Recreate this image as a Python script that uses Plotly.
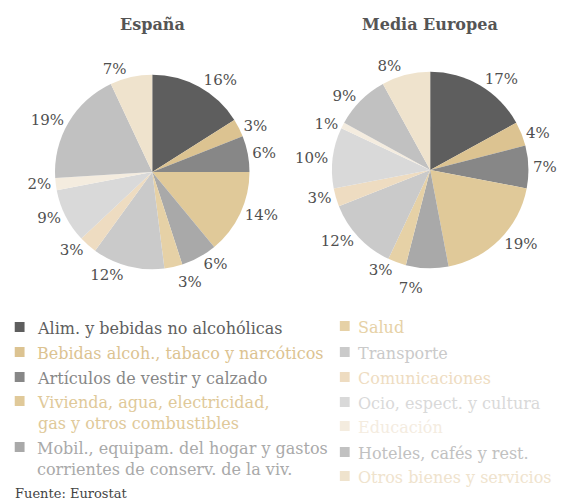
import plotly.graph_objects as go

# categories (clockwise from 12 o'clock)
categorias = [
    "Alim. y bebidas no alcohólicas",
    "Bebidas alcoh., tabaco y narcóticos",
    "Artículos de vestir y calzado",
    "Vivienda, agua, electricidad,<br>gas y otros combustibles",
    "Mobil., equipam. del hogar y gastos<br>corrientes de conserv. de la viv.",
    "Salud",
    "Transporte",
    "Comunicaciones",
    "Ocio, espect. y cultura",
    "Educación",
    "Hoteles, cafés y rest.",
    "Otros bienes y servicios",
]
espana = [16, 3, 6, 14, 6, 3, 12, 3, 9, 2, 19, 7]
media_europea = [17, 4, 7, 19, 7, 3, 12, 3, 10, 1, 9, 8]

colores = [
    "#5e5e5e", "#dcc391", "#878787", "#e0c999", "#a9a9a9", "#e6d1a6",
    "#cacaca", "#eedcc1", "#d9d9d9", "#f4ecdf", "#c1c1c1", "#efe3cd",
]

W, H = 562, 501
FONT = "DejaVu Serif"


def px_x(x):
    return x / W


def px_y(y):
    return 1 - y / H


fig = go.Figure()

pies = [
    ("España", espana, 155, 172, 99),
    ("Media Europea", media_europea, 438, 170, 100),
]
for nombre, valores, cx, cy, r in pies:
    fig.add_trace(go.Pie(
        labels=categorias,
        values=valores,
        text=[f"{v}%" for v in valores],
        textinfo="text",
        textposition="outside",
        textfont=dict(family=FONT, size=15, color="#4f4f4f"),
        sort=False,
        direction="clockwise",
        rotation=0,
        marker=dict(colors=colores, line=dict(width=0)),
        hoverinfo="label+percent",
        domain=dict(x=[px_x(cx - r), px_x(cx + r)],
                    y=[px_y(cy + r), px_y(cy - r)]),
        name=nombre,
        showlegend=False,
    ))
    fig.add_annotation(text=f"<b>{nombre}</b>", x=px_x(cx), y=px_y(25),
                       xref="paper", yref="paper", showarrow=False,
                       xanchor="center", yanchor="middle",
                       font=dict(family=FONT, size=16, color="#555555"))

# manual legend in two columns
filas_izq = [327, 352, 377, 401, 447]
filas_der = [326, 352, 377, 402, 426, 452, 476]
posiciones = [(15, 36, y) for y in filas_izq] + [(346, 362, y) for y in filas_der]

for cat, col, (sx, tx, y) in zip(categorias, colores, posiciones):
    fig.add_shape(type="rect", xref="paper", yref="paper",
                  x0=px_x(sx), x1=px_x(sx + 10),
                  y0=px_y(y + 5), y1=px_y(y - 5),
                  fillcolor=col, line=dict(width=0))
    fig.add_annotation(text=cat, x=px_x(tx), y=px_y(y - 10),
                       xref="paper", yref="paper", showarrow=False,
                       xanchor="left", yanchor="top", align="left",
                       font=dict(family=FONT, size=16, color=col))

fig.add_annotation(text="Fuente: Eurostat", x=px_x(13), y=px_y(493),
                   xref="paper", yref="paper", showarrow=False,
                   xanchor="left", yanchor="middle",
                   font=dict(family=FONT, size=13, color="#444444"))

fig.update_layout(
    width=W, height=H,
    margin=dict(l=0, r=0, t=0, b=0),
    paper_bgcolor="white",
    plot_bgcolor="white",
)

# no page margin, and no leader lines on the pie labels
js = """
document.body.style.margin = '0';
document.body.style.overflow = 'hidden';
document.querySelectorAll('.textline').forEach(function (e) { e.style.display = 'none'; });
"""
fig.write_html("out.html", post_script=js, config={"displayModeBar": False})
